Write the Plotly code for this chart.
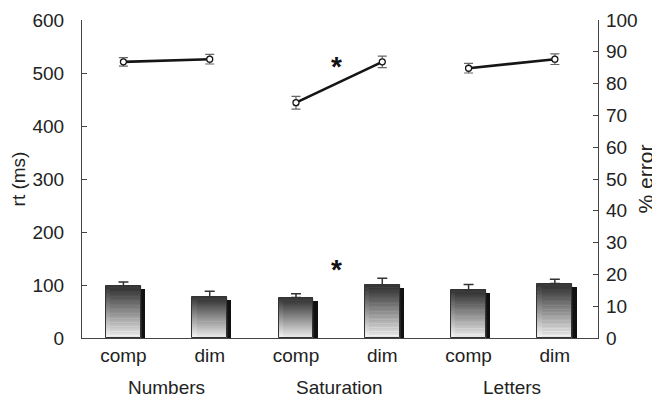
import plotly.graph_objects as go

# ---- data ----
conditions = ["comp", "dim", "comp", "dim", "comp", "dim"]
groups = ["Numbers", "Saturation", "Letters"]
rt_ms = [521, 526, 444, 521, 509, 526]
rt_err = [8, 9, 12, 11, 9, 10]
error_pct = [16.4, 13.0, 12.7, 16.7, 15.1, 17.1]
error_pct_err = [1.2, 1.7, 1.2, 2.1, 1.7, 1.4]
left_ticks = [0, 100, 200, 300, 400, 500, 600]
right_ticks = [0, 10, 20, 30, 40, 50, 60, 70, 80, 90, 100]

xpos = list(range(len(conditions)))
FONT = "Liberation Sans, Arial, sans-serif"
TXT = "#222222"

fig = go.Figure()

BW = 0.405
# shadow bars
fig.add_trace(go.Bar(
    x=[p + 0.05 for p in xpos], y=[v - 1.0 for v in error_pct], yaxis="y2",
    width=BW, marker=dict(color="#111111", line=dict(width=0)),
    hoverinfo="skip", showlegend=False))

# gradient bars built from stacked slices
N = 40
top = (45, 45, 45)
bot = (250, 250, 250)
for i in range(N):
    t = (i + 0.5) / N  # 0 bottom -> 1 top
    c = tuple(int(round(bot[k] + (top[k] - bot[k]) * t)) for k in range(3))
    col = "rgb(%d,%d,%d)" % c
    fig.add_trace(go.Bar(
        x=xpos, y=[v / N for v in error_pct], base=[v * i / N for v in error_pct],
        yaxis="y2", width=BW,
        marker=dict(color=col, line=dict(width=0.6, color=col)),
        hoverinfo="skip", showlegend=False))

# outline + error bars
fig.add_trace(go.Bar(
    x=xpos, y=error_pct, yaxis="y2", width=BW,
    marker=dict(color="rgba(0,0,0,0)", line=dict(width=1, color="#333333")),
    error_y=dict(type="data", symmetric=False, array=error_pct_err,
                 arrayminus=[0] * len(error_pct), color="#333333",
                 thickness=1.5, width=5),
    showlegend=False))

# rt lines per group
for g in range(len(groups)):
    idx = [2 * g, 2 * g + 1]
    fig.add_trace(go.Scatter(
        x=[xpos[i] for i in idx], y=[rt_ms[i] for i in idx],
        mode="lines+markers",
        line=dict(color="#151515", width=2.6),
        marker=dict(symbol="circle", size=6, color="white",
                    line=dict(color="#151515", width=1.3)),
        error_y=dict(type="data", array=[rt_err[i] for i in idx],
                     color="#666666", thickness=1.2, width=4.5),
        showlegend=False))

annotations = []
for g, name in enumerate(groups):
    annotations.append(dict(x=2 * g + 0.5, y=-0.155, xref="x", yref="paper",
                            text=name, showarrow=False, yanchor="middle",
                            font=dict(size=19, color=TXT, family=FONT)))
annotations.append(dict(x=2.47, y=513, xref="x", yref="y", text="<b>*</b>",
                        showarrow=False, font=dict(size=28, color="#111", family=FONT)))
annotations.append(dict(x=2.47, y=21.4, xref="x", yref="y2", text="<b>*</b>",
                        showarrow=False, font=dict(size=28, color="#111", family=FONT)))

# page body has an 8px margin, so the figure is sized/offset to compensate
fig.update_layout(
    width=652, height=391,
    margin=dict(l=74, r=62, t=12, b=61, autoexpand=False),
    paper_bgcolor="white", plot_bgcolor="white",
    barmode="overlay", bargap=0,
    font=dict(family=FONT, size=19, color=TXT),
    xaxis=dict(range=[-0.48, 5.5], tickvals=xpos, ticktext=conditions,
               showgrid=False, zeroline=False, showline=True,
               linecolor="#444", linewidth=1.2, ticks="",
               automargin=False,
               tickfont=dict(size=19, color=TXT)),
    yaxis=dict(range=[0, 600], tickvals=left_ticks, showgrid=False,
               zeroline=False, showline=True, linecolor="#444", linewidth=1.2,
               ticks="inside", ticklen=5, tickcolor="#444",
               ticklabelstandoff=13, automargin=False,
               title=dict(text="rt (ms)", standoff=4,
                          font=dict(size=19, color=TXT))),
    yaxis2=dict(range=[0, 100], tickvals=right_ticks, overlaying="y",
                side="right", showgrid=False, zeroline=False, showline=True,
                linecolor="#444", linewidth=1.2, ticks="inside", ticklen=5,
                tickcolor="#444", ticklabelstandoff=3, automargin=False,
                title=dict(text="% error", standoff=1,
                           font=dict(size=21, color=TXT))),
    annotations=annotations,
)

fig.write_html("out.html")
